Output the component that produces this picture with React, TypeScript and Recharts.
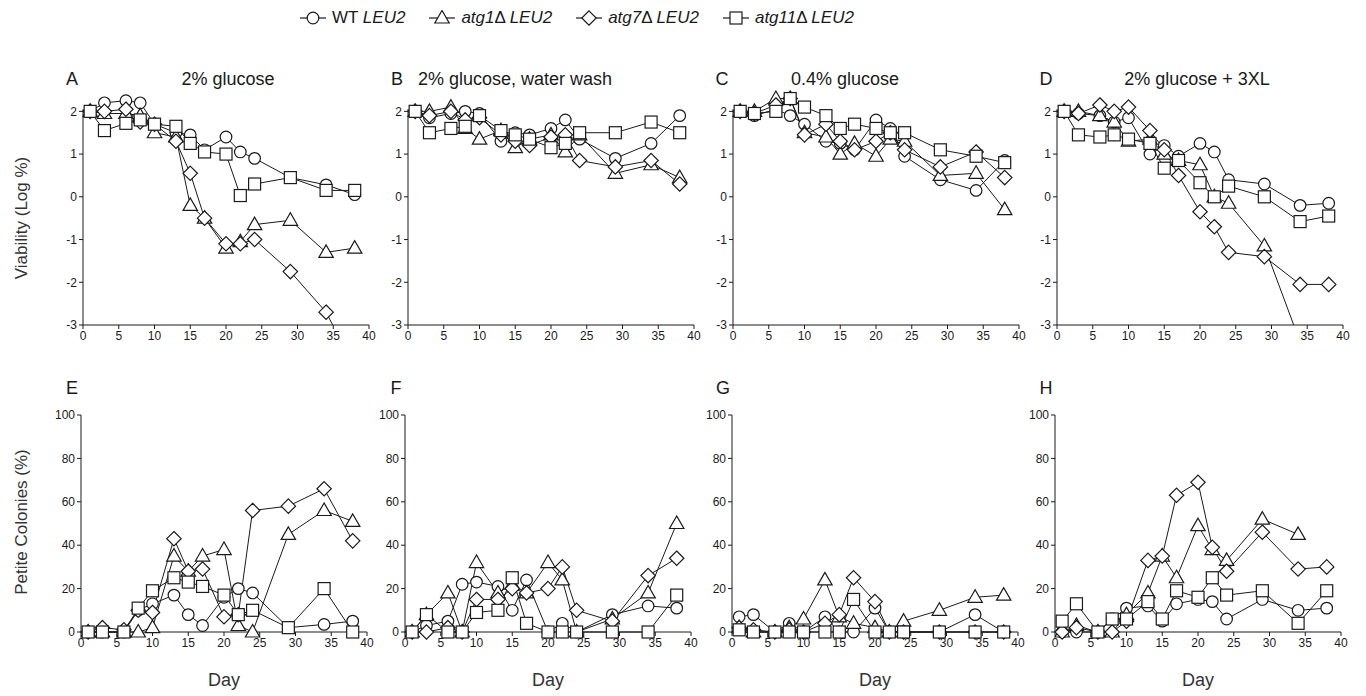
import React from 'react';
import { LineChart, Line, XAxis, YAxis, ReferenceLine } from 'recharts';

const days = [1, 3, 6, 8, 10, 13, 15, 17, 20, 22, 24, 29, 34, 38];
const xTicks = [0, 5, 10, 15, 20, 25, 30, 35, 40];
const viabTicks = [-3, -2, -1, 0, 1, 2];
const petiteTicks = [0, 20, 40, 60, 80, 100];

const seriesKeys = ['wt', 'atg1', 'atg7', 'atg11'];
const seriesShapes = ['circle', 'triangle', 'diamond', 'square'];

// Viability (Log %)
const aWT = [2.0, 2.2, 2.25, 2.2, 1.7, 1.5, 1.45, 1.1, 1.4, 1.05, 0.9, 0.45, 0.28, 0.05];
const aAtg1 = [2.0, 1.95, 1.95, 1.9, 1.5, 1.4, -0.2, -0.5, -1.2, -1.05, -0.65, -0.55, -1.3, -1.2];
const aAtg7 = [2.0, 2.0, 2.05, 1.75, 1.7, 1.3, 0.55, -0.5, -1.1, -1.1, -1.0, -1.75, -2.7, -4.0];
const aAtg11 = [2.0, 1.55, 1.72, 1.8, 1.7, 1.65, 1.25, 1.05, 1.0, 0.03, 0.3, 0.45, 0.15, 0.15];

const bWT = [2.0, 1.85, 1.95, 2.0, 1.95, 1.3, 1.5, 1.45, 1.6, 1.8, 1.35, 0.9, 1.25, 1.9];
const bAtg1 = [2.0, 2.0, 2.1, 1.6, 1.35, 1.55, 1.15, 1.35, 1.45, 1.05, 1.45, 0.55, 0.75, 0.45];
const bAtg7 = [2.0, 1.9, 2.0, 1.8, 1.85, 1.45, 1.3, 1.2, 1.4, 1.45, 0.85, 0.7, 0.85, 0.3];
const bAtg11 = [2.0, 1.5, 1.6, 1.65, 1.9, 1.55, 1.45, 1.35, 1.15, 1.25, 1.5, 1.5, 1.75, 1.5];

const cWT = [2.0, 1.9, 2.05, 1.9, 1.7, 1.3, 1.25, 1.1, 1.8, 1.6, 0.95, 0.4, 0.15, 0.85];
const cAtg1 = [2.0, 2.0, 2.3, 2.3, 1.5, 1.4, 1.0, 1.25, 0.95, 1.35, 1.3, 0.5, 0.55, -0.3];
const cAtg7 = [2.0, 1.95, 2.15, 2.3, 1.45, 1.7, 1.3, 1.1, 1.3, 1.5, 1.1, 0.7, 1.05, 0.45];
const cAtg11 = [2.0, 1.95, 2.0, 2.3, 2.1, 1.9, 1.6, 1.7, 1.6, 1.5, 1.5, 1.1, 0.95, 0.8];

const dWT = [2.0, 1.95, 1.9, 1.75, 1.85, 1.0, 1.2, 0.95, 1.25, 1.05, 0.4, 0.3, -0.2, -0.15];
const dAtg1 = [2.0, 2.0, 1.9, 1.75, 1.3, 1.35, 1.0, 0.85, 0.75, 0.0, -0.15, -1.15, -3.4, null];
const dAtg7 = [2.0, 1.95, 2.15, 2.0, 2.1, 1.55, 1.1, 0.5, -0.35, -0.7, -1.3, -1.4, -2.05, -2.05];
const dAtg11 = [2.0, 1.45, 1.4, 1.45, 1.35, 1.25, 0.67, 0.85, 0.33, 0.0, 0.25, 0.0, -0.58, -0.45];

// Petite colonies (%)
const eWT = [0, 0, 0, 10, 13, 17, 8, 3, 16, 20, 18, 2, 3.5, 5];
const eAtg1 = [0, 0, 0, 0, 2, 35, 28, 35, 38, 3, 0, 45, 56, 51];
const eAtg7 = [0, 2, 1, 10, 9, 43, 28, 29, 7, 8, 56, 58, 66, 42];
const eAtg11 = [0, 0, 0, 11, 19, 25, 23, 21, 17, 8, 10, 2, 20, 0];

const fWT = [0, 3, 5, 22, 23, 21, 10, 24, 0, 4, 0, 8, 12, 11];
const fAtg1 = [0, 8, 18, 0, 32, 18, 22, 18, 32, 24, 0, 6, 18, 50];
const fAtg7 = [0, 0, 2, 0, 15, 15, 20, 18, 20, 30, 10, 5, 26, 34];
const fAtg11 = [0, 8, 0, 0, 9, 10, 25, 4, 0, 0, 0, 0, 0, 17];

const gWT = [7, 8, 0, 4, 0, 7, 0, 0, 11, 0, 0, 0, 8, 0];
const gAtg1 = [2, 0, 0, 2, 6, 24, 7, 4, 2, 0, 5, 10, 16, 17];
const gAtg7 = [2, 1, 0, 1, 0, 4, 8, 25, 14, 0, 0, 0, 0, 0];
const gAtg11 = [1, 0, 0, 0, 0, 0, 0, 15, 0, 0, 0, 0, 0, 0];

const hWT = [0, 0, 0, 6, 11, 12, 5, 13, 15, 14, 6, 15, 10, 11];
const hAtg1 = [0, 3, 0, 0, 8, 18, 35, 25, 49, 38, 33, 52, 45, null];
const hAtg7 = [0, 2, 0, 0, 5, 33, 35, 63, 69, 39, 28, 46, 29, 30];
const hAtg11 = [5, 13, 0, 6, 6, 14, 6, 19, 16, 25, 17, 19, 4, 19];

const panelLetters = ['A', 'B', 'C', 'D', 'E', 'F', 'G', 'H'];
const panelTitles = ['2% glucose', '2% glucose, water wash', '0.4% glucose', '2% glucose + 3XL'];

const FONT = '"Liberation Sans", Arial, sans-serif';
const INK = '#1a1a1a';

function build(wt: (number | null)[], a1: (number | null)[], a7: (number | null)[], a11: (number | null)[]) {
  return days.map((d, i) => ({ day: d, wt: wt[i], atg1: a1[i], atg7: a7[i], atg11: a11[i] }));
}

const topData = [
  build(aWT, aAtg1, aAtg7, aAtg11),
  build(bWT, bAtg1, bAtg7, bAtg11),
  build(cWT, cAtg1, cAtg7, cAtg11),
  build(dWT, dAtg1, dAtg7, dAtg11),
];
const bottomData = [
  build(eWT, eAtg1, eAtg7, eAtg11),
  build(fWT, fAtg1, fAtg7, fAtg11),
  build(gWT, gAtg1, gAtg7, gAtg11),
  build(hWT, hAtg1, hAtg7, hAtg11),
];

function MarkerShape({ cx, cy, shape }: { cx: number; cy: number; shape: string }) {
  const common = { fill: '#fff', stroke: INK, strokeWidth: 1.2 };
  if (shape === 'circle') return <circle cx={cx} cy={cy} r={5.8} {...common} />;
  if (shape === 'square') return <rect x={cx - 6} y={cy - 6} width={12} height={12} {...common} />;
  if (shape === 'triangle')
    return <polygon points={`${cx},${cy - 7.5} ${cx - 7.2},${cy + 5} ${cx + 7.2},${cy + 5}`} {...common} />;
  return <polygon points={`${cx},${cy - 7.2} ${cx + 7.2},${cy} ${cx},${cy + 7.2} ${cx - 7.2},${cy}`} {...common} />;
}

function makeDot(shape: string) {
  return (props: any) => {
    const { cx, cy, index, value } = props;
    const k = `${shape}-${index}`;
    if (cx == null || cy == null || value == null || Number.isNaN(cy)) return <g key={k} />;
    return (
      <g key={k}>
        <MarkerShape cx={cx} cy={cy} shape={shape} />
      </g>
    );
  };
}

const tickStyle = { fontSize: 12, fill: INK, fontFamily: FONT };

const topLefts = [83, 408, 733, 1057];
const bottomLefts = [81, 405, 732, 1055];
const PLOT_W = 286;
const Y_AXIS_W = 40;

function TopPanel({ idx }: { idx: number }) {
  const left = topLefts[idx] - Y_AXIS_W;
  return (
    <div style={{ position: 'absolute', left, top: 80 }}>
      <LineChart
        width={Y_AXIS_W + PLOT_W + 16}
        height={275}
        data={topData[idx]}
        margin={{ top: 10, right: 16, bottom: 0, left: 0 }}
      >
        <XAxis
          dataKey="day"
          type="number"
          domain={[0, 40]}
          ticks={xTicks}
          interval={0}
          tickSize={4}
          tick={tickStyle}
          stroke={INK}
          height={30}
        />
        <YAxis
          type="number"
          domain={[-3, 2.5]}
          allowDataOverflow
          ticks={viabTicks}
          interval={0}
          tickSize={4}
          tick={tickStyle}
          axisLine={false}
          tickLine={{ stroke: INK }}
          width={Y_AXIS_W}
        />
        <ReferenceLine
          segment={[
            { x: 0, y: -3 },
            { x: 0, y: 2.05 },
          ]}
          stroke={INK}
          strokeWidth={1}
        />
        {seriesKeys.map((k, i) => (
          <Line
            key={k}
            dataKey={k}
            stroke={INK}
            strokeWidth={1}
            isAnimationActive={false}
            dot={makeDot(seriesShapes[i])}
            activeDot={false}
            connectNulls={false}
          />
        ))}
      </LineChart>
    </div>
  );
}

function BottomPanel({ idx }: { idx: number }) {
  const left = bottomLefts[idx] - Y_AXIS_W;
  return (
    <div style={{ position: 'absolute', left, top: 405 }}>
      <LineChart
        width={Y_AXIS_W + PLOT_W + 16}
        height={257}
        data={bottomData[idx]}
        margin={{ top: 10, right: 16, bottom: 0, left: 0 }}
      >
        <XAxis
          dataKey="day"
          type="number"
          domain={[0, 40]}
          ticks={xTicks}
          interval={0}
          tickSize={4}
          tick={tickStyle}
          stroke={INK}
          height={30}
        />
        <YAxis
          type="number"
          domain={[0, 100]}
          ticks={petiteTicks}
          interval={0}
          tickSize={4}
          tick={tickStyle}
          stroke={INK}
          width={Y_AXIS_W}
        />
        {seriesKeys.map((k, i) => (
          <Line
            key={k}
            dataKey={k}
            stroke={INK}
            strokeWidth={1}
            isAnimationActive={false}
            dot={makeDot(seriesShapes[i])}
            activeDot={false}
            connectNulls={false}
          />
        ))}
      </LineChart>
    </div>
  );
}

function LegendSymbol({ shape }: { shape: string }) {
  return (
    <svg width={26} height={16} style={{ verticalAlign: 'middle', marginRight: 6 }}>
      <line x1={0} y1={8} x2={26} y2={8} stroke={INK} strokeWidth={1.2} />
      <MarkerShape cx={13} cy={8} shape={shape} />
    </svg>
  );
}

const legendLabels = [
  <span key="0">WT <i>LEU2</i></span>,
  <span key="1"><i>atg1</i>Δ <i>LEU2</i></span>,
  <span key="2"><i>atg7</i>Δ <i>LEU2</i></span>,
  <span key="3"><i>atg11</i>Δ <i>LEU2</i></span>,
];

const titleStyle: React.CSSProperties = {
  position: 'absolute',
  fontFamily: FONT,
  fontSize: 18,
  color: INK,
  whiteSpace: 'nowrap',
  lineHeight: '20px',
};

const titlePos = [
  { x: 228, anchor: 'center' },
  { x: 418, anchor: 'left' },
  { x: 845, anchor: 'center' },
  { x: 1197, anchor: 'center' },
];

export default function App() {
  return (
    <div
      style={{
        position: 'absolute',
        left: 0,
        top: 0,
        width: 1366,
        height: 696,
        background: '#fff',
        overflow: 'hidden',
        fontFamily: FONT,
      }}
    >
      {/* legend */}
      <div
        style={{
          position: 'absolute',
          top: 8,
          left: 300,
          display: 'flex',
          alignItems: 'center',
          fontSize: 17,
          color: INK,
          whiteSpace: 'nowrap',
          lineHeight: '20px',
        }}
      >
        {seriesShapes.map((s, i) => (
          <span key={s} style={{ display: 'inline-flex', alignItems: 'center', marginRight: 24 }}>
            <LegendSymbol shape={s} />
            {legendLabels[i]}
          </span>
        ))}
      </div>

      {/* y-axis titles */}
      <div
        style={{
          position: 'absolute',
          left: 22,
          top: 218,
          transform: 'translate(-50%, -50%) rotate(-90deg)',
          fontSize: 17,
          color: '#333',
          whiteSpace: 'nowrap',
        }}
      >
        Viability (Log %)
      </div>
      <div
        style={{
          position: 'absolute',
          left: 22,
          top: 522,
          transform: 'translate(-50%, -50%) rotate(-90deg)',
          fontSize: 17,
          color: '#333',
          whiteSpace: 'nowrap',
        }}
      >
        Petite Colonies (%)
      </div>

      {[0, 1, 2, 3].map((i) => (
        <TopPanel key={`t${i}`} idx={i} />
      ))}
      {[0, 1, 2, 3].map((i) => (
        <BottomPanel key={`b${i}`} idx={i} />
      ))}

      {/* panel letters & titles */}
      {[0, 1, 2, 3].map((i) => (
        <div key={`lt${i}`} style={{ ...titleStyle, left: topLefts[i] - 11, top: 69, transform: 'translateX(-50%)' }}>
          {panelLetters[i]}
        </div>
      ))}
      {[0, 1, 2, 3].map((i) => (
        <div
          key={`tt${i}`}
          style={{
            ...titleStyle,
            left: titlePos[i].x,
            top: 69,
            transform: titlePos[i].anchor === 'center' ? 'translateX(-50%)' : undefined,
          }}
        >
          {panelTitles[i]}
        </div>
      ))}
      {[0, 1, 2, 3].map((i) => (
        <div
          key={`lb${i}`}
          style={{ ...titleStyle, left: bottomLefts[i] - 9, top: 378, transform: 'translateX(-50%)' }}
        >
          {panelLetters[i + 4]}
        </div>
      ))}
      {[0, 1, 2, 3].map((i) => (
        <div
          key={`day${i}`}
          style={{
            ...titleStyle,
            fontSize: 18,
            color: '#333',
            left: bottomLefts[i] + PLOT_W / 2,
            top: 670,
            transform: 'translateX(-50%)',
          }}
        >
          Day
        </div>
      ))}
    </div>
  );
}
